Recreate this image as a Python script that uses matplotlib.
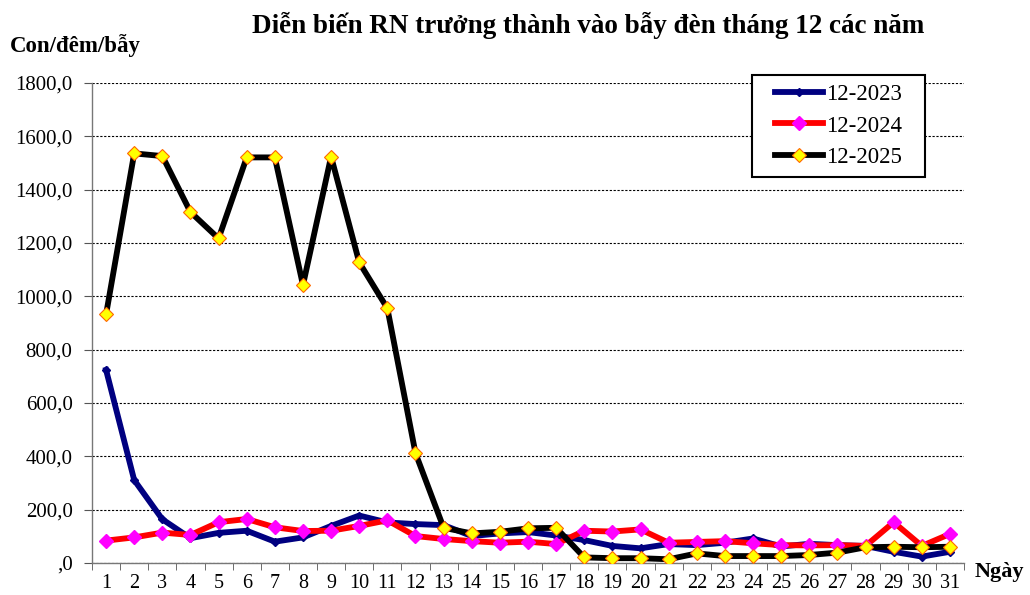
import matplotlib
matplotlib.use("Agg")
import matplotlib.pyplot as plt
from matplotlib.ticker import FuncFormatter, MultipleLocator, FixedLocator
from matplotlib.patches import Rectangle

days = list(range(1, 32))
y2023 = [724, 311, 164, 93, 113, 121, 80, 96, 139, 178, 152, 146, 142, 101, 111, 116, 103, 86, 64, 55, 71, 67, 76, 92, 62, 72, 67, 64, 42, 24, 42]
y2024 = [84, 96, 114, 105, 153, 165, 134, 120, 121, 139, 160, 101, 90, 82, 76, 80, 71, 121, 118, 126, 76, 79, 82, 74, 67, 66, 67, 64, 153, 64, 109]
y2025 = [932, 1536, 1526, 1316, 1217, 1521, 1521, 1042, 1524, 1127, 955, 412, 132, 111, 117, 130, 132, 21, 18, 18, 14, 36, 26, 26, 26, 30, 39, 59, 61, 59, 61]
labels = ["12-2023", "12-2024", "12-2025"]

plt.rcParams['font.family'] = ['Liberation Serif', 'DejaVu Serif']

fig = plt.figure(figsize=(10.3, 5.95), dpi=100)
ax = fig.add_axes([92/1030, 1-563/595, (964-92)/1030, (563-83)/595])

l1, = ax.plot(days, y2023, color='#000080', lw=4.2, marker='D', ms=4.5, mfc='#000080', mec='#000080', label=labels[0], zorder=3)
l2, = ax.plot(days, y2024, color='#ff0000', lw=4.2, marker='D', ms=7, mfc='#ff00ff', mec='#ff00ff', label=labels[1], zorder=4)
l3, = ax.plot(days, y2025, color='#000000', lw=4.2, marker='D', ms=7, mfc='#ffff00', mec='#ff6600', mew=0.8, label=labels[2], zorder=5)

ax.set_xlim(0.5, 31.5)
ax.set_ylim(0, 1800)
ax.yaxis.set_major_locator(MultipleLocator(200))
ax.yaxis.set_major_formatter(FuncFormatter(lambda v, p: ("%d,0" % v) if v != 0 else ",0"))
ax.set_xticks(days)
ax.xaxis.set_minor_locator(FixedLocator([d + 0.5 for d in range(0, 32)]))
ax.tick_params(axis='x', which='major', length=0, labelsize=14.5, pad=8)
ax.tick_params(axis='x', which='minor', length=5, color='#555555', direction='out')
ax.tick_params(axis='y', which='major', length=6, color='#555555', labelsize=15, direction='out', pad=8)

ax.grid(axis='y', which='major', color='black', linestyle=(0, (2, 1.5)), lw=0.8)
ax.set_axisbelow(True)
for s in ['top', 'right']:
    ax.spines[s].set_visible(False)
for s in ['left', 'bottom']:
    ax.spines[s].set_color('#777777')
    ax.spines[s].set_linewidth(1.0)

# legend box
bx0, by0, bx1, by1 = 752, 75, 925, 177
fig.patches.append(Rectangle((bx0/1030, 1-by1/595), (bx1-bx0)/1030, (by1-by0)/595,
                             transform=fig.transFigure, facecolor='white', edgecolor='black',
                             lw=1.5, zorder=10))
leg = fig.legend(handles=[l1, l2, l3], labels=labels, loc='center',
                 bbox_to_anchor=((bx0+bx1)/2/1030, 1-(by0+by1)/2/595),
                 bbox_transform=fig.transFigure, frameon=False, fontsize=16.5,
                 handlelength=2.1, handletextpad=0.15, labelspacing=0.45, borderpad=0.2)
leg.set_zorder(11)

fig.text(588/1030, 1-25/595, "Diễn biến RN trưởng thành vào bẫy đèn tháng 12 các năm",
         ha='center', va='center', fontsize=19.5, fontweight='bold')
fig.text(10/1030, 1-46/595, "Con/đêm/bẫy", ha='left', va='center', fontsize=16.5, fontweight='bold')
fig.text(975/1030, 1-572/595, "Ngày", ha='left', va='center', fontsize=16, fontweight='bold')

fig.savefig("out.png", dpi=100)
